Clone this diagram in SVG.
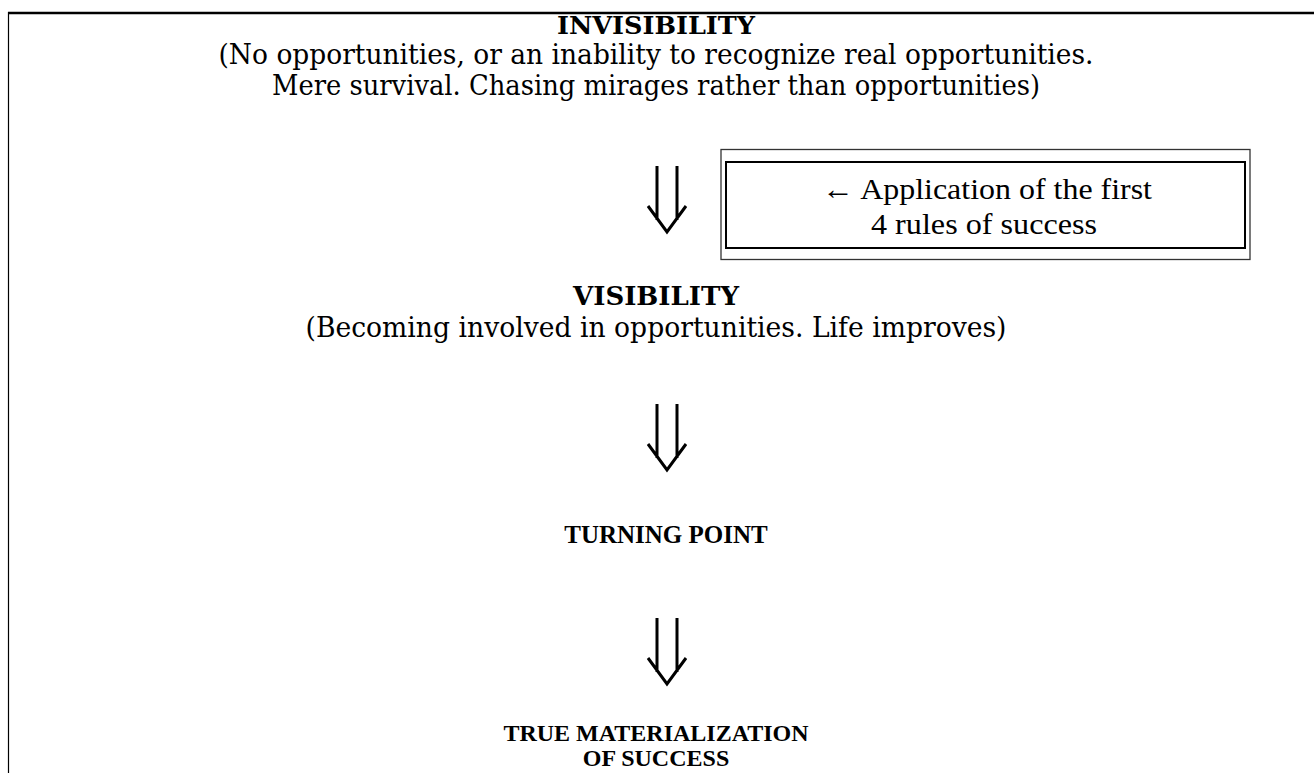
<svg xmlns="http://www.w3.org/2000/svg" width="1314" height="773" viewBox="0 0 1314 773">
<style>
.g{font-family:"DejaVu Serif","Liberation Serif",serif;fill:#000}
.t{font-family:"Liberation Serif","Times New Roman",serif;fill:#000}
.b{font-weight:bold}
.arr{fill:none;stroke:#000;stroke-width:3;stroke-linejoin:miter}
</style>
<rect width="1314" height="773" fill="#fff"/>
<g id="frame">
<line x1="8" y1="13" x2="1314" y2="13" stroke="#000" stroke-width="2.5"/>
<line x1="8.5" y1="12" x2="8.5" y2="773" stroke="#000" stroke-width="1.2"/>
</g>
<g id="invisibility">
<text class="g b" x="656" y="34" font-size="25" text-anchor="middle" textLength="198" lengthAdjust="spacingAndGlyphs">INVISIBILITY</text>
<text class="g" x="656" y="64" font-size="28" text-anchor="middle" textLength="875" lengthAdjust="spacingAndGlyphs">(No opportunities, or an inability to recognize real opportunities.</text>
<text class="g" x="656" y="95" font-size="28" text-anchor="middle" textLength="768" lengthAdjust="spacingAndGlyphs">Mere survival. Chasing mirages rather than opportunities)</text>
</g>
<g id="rules-box">
<rect x="721" y="149.5" width="529" height="110" fill="none" stroke="#333" stroke-width="1.3"/>
<rect x="726" y="162" width="519" height="86" fill="none" stroke="#000" stroke-width="2"/>
<text class="t" x="987" y="199" font-size="30" text-anchor="middle" textLength="330" lengthAdjust="spacingAndGlyphs">← Application of the first</text>
<text class="t" x="984" y="234" font-size="30" text-anchor="middle" textLength="226" lengthAdjust="spacingAndGlyphs">4 rules of success</text>
</g>
<g id="visibility">
<text class="g b" x="656" y="305" font-size="26" text-anchor="middle" textLength="166" lengthAdjust="spacingAndGlyphs">VISIBILITY</text>
<text class="g" x="656" y="337" font-size="28" text-anchor="middle" textLength="701" lengthAdjust="spacingAndGlyphs">(Becoming involved in opportunities. Life improves)</text>
</g>
<g id="turning-point">
<text class="t b" x="666" y="543" font-size="25" text-anchor="middle">TURNING POINT</text>
</g>
<g id="true-materialization">
<text class="t b" x="656" y="741" font-size="24" text-anchor="middle">TRUE MATERIALIZATION</text>
<text class="t b" x="656" y="766" font-size="24" text-anchor="middle">OF SUCCESS</text>
</g>
<g id="connectors">
<path class="arr" d="M657 166V220M677 166V220M648 206L667 232L686 206"/>
<path class="arr" d="M657 404V458M677 404V458M648 444L667 470L686 444"/>
<path class="arr" d="M657 618V672M677 618V672M648 658L667 684L686 658"/>
</g>
</svg>
